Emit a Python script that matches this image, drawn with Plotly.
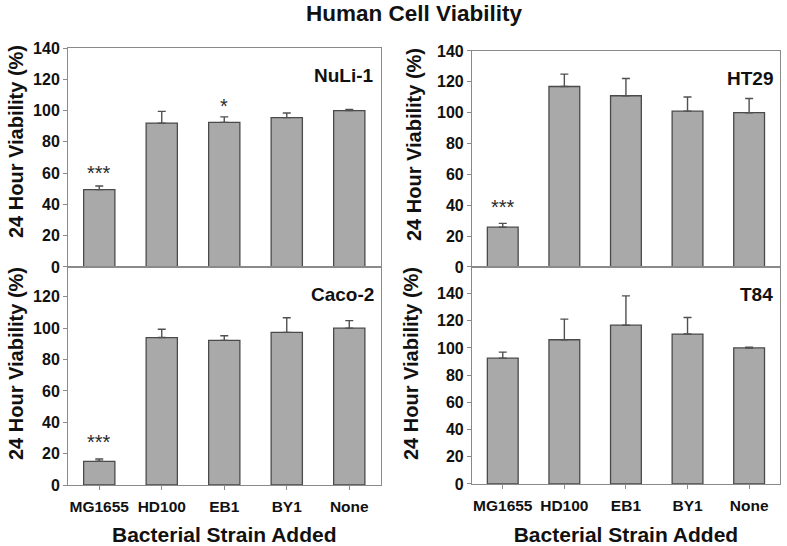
import plotly.graph_objects as go

strains = ["MG1655", "HD100", "EB1", "BY1", "None"]

nuli_vals = [49.5, 92, 92.5, 95.5, 100]
nuli_err = [2.3, 7.5, 3.5, 3.0, 0.8]
nuli_stars = ["***", "", "*", "", ""]
nuli_star_y = [60, 0, 103, 0, 0]

ht29_vals = [25.8, 117, 111, 101, 100]
ht29_err = [2.5, 8, 11.2, 9.2, 9.2]
ht29_stars = ["***", "", "", "", ""]
ht29_star_y = [39, 0, 0, 0, 0]

caco_vals = [15.1, 94, 92.2, 97.3, 100]
caco_err = [1.5, 5.3, 3.0, 9.3, 4.8]
caco_stars = ["***", "", "", "", ""]
caco_star_y = [27.6, 0, 0, 0, 0]

t84_vals = [92.5, 106, 116.7, 110.2, 100]
t84_err = [4.4, 15.2, 21.6, 12.2, 0.5]
t84_stars = ["", "", "", "", ""]
t84_star_y = [0, 0, 0, 0, 0]

panels = [
    ("NuLi-1", nuli_vals, nuli_err, nuli_stars, nuli_star_y, "x", "y", [0, 140], [0, 20, 40, 60, 80, 100, 120, 140]),
    ("HT29", ht29_vals, ht29_err, ht29_stars, ht29_star_y, "x2", "y2", [0, 140], [0, 20, 40, 60, 80, 100, 120, 140]),
    ("Caco-2", caco_vals, caco_err, caco_stars, caco_star_y, "x3", "y3", [0, 139], [0, 20, 40, 60, 80, 100, 120]),
    ("T84", t84_vals, t84_err, t84_stars, t84_star_y, "x4", "y4", [0, 159.5], [0, 20, 40, 60, 80, 100, 120, 140]),
]

FONT = "Liberation Sans, Arial, sans-serif"
BAR_FILL = "#a9a9a9"
BAR_LINE = "#4a4a4a"
AXIS_COLOR = "#8a8a8a"
TXT = "#111111"

fig = go.Figure()

xdom = {"x": [0.0864, 0.4835], "x2": [0.5997, 0.991], "x3": [0.0864, 0.4835], "x4": [0.5997, 0.991]}
ydom = {"y": [0.511, 0.912], "y2": [0.511, 0.9066], "y3": [0.1117, 0.511], "y4": [0.1136, 0.511]}

annotations = []
for name, vals, err, stars, stary, xa, ya, yr, ytv in panels:
    fig.add_trace(go.Bar(
        x=strains, y=vals, xaxis=xa, yaxis=ya, width=0.5,
        marker=dict(color=BAR_FILL, line=dict(color=BAR_LINE, width=1.3)),
        error_y=dict(type="data", symmetric=False, array=err, arrayminus=[0] * len(err),
                     color="#505050", thickness=1.4, width=4),
        showlegend=False, hoverinfo="skip",
    ))
    for s, sy, cat in zip(stars, stary, strains):
        if s:
            annotations.append(dict(x=cat, y=sy, xref=xa, yref=ya, text=s, showarrow=False,
                                    font=dict(family=FONT, size=20, color="#2a2a2a"),
                                    yanchor="middle", xanchor="center"))
    annotations.append(dict(x=0.985, y=0.93, xref=f"{xa} domain", yref=f"{ya} domain", text=f"<b>{name}</b>",
                            showarrow=False, xanchor="right", yanchor="top",
                            font=dict(family=FONT, size=19, color=TXT)))

def xaxis_cfg(dom, anchor, bottom):
    d = dict(domain=dom, anchor=anchor, showline=True, linecolor=AXIS_COLOR, linewidth=1, mirror=True,
             showgrid=False, zeroline=False, range=[-0.5, 4.5], fixedrange=True, automargin=False)
    if bottom:
        d.update(ticks="outside", ticklen=4, tickcolor=AXIS_COLOR, showticklabels=True,
                 tickfont=dict(family=FONT, size=15.5, color=TXT, weight="bold"), ticklabelstandoff=3,
                 title=dict(text="Bacterial Strain Added", standoff=18,
                            font=dict(family=FONT, size=21, color=TXT, weight="bold")))
    else:
        d.update(ticks="", showticklabels=False)
    return d

def yaxis_cfg(dom, anchor, rng, tv):
    return dict(domain=dom, anchor=anchor, range=rng, tickvals=tv, showline=True, linecolor=AXIS_COLOR,
                linewidth=1, mirror=True, showgrid=False, zeroline=False, ticks="outside", ticklen=4,
                tickcolor=AXIS_COLOR, tickfont=dict(family=FONT, size=16, color=TXT, weight="bold"),
                fixedrange=True, automargin=False)

fig.update_layout(
    xaxis=xaxis_cfg(xdom["x"], "y", False),
    xaxis2=xaxis_cfg(xdom["x2"], "y2", False),
    xaxis3=xaxis_cfg(xdom["x3"], "y3", True),
    xaxis4=xaxis_cfg(xdom["x4"], "y4", True),
    yaxis=yaxis_cfg(ydom["y"], "x", panels[0][7], panels[0][8]),
    yaxis2=yaxis_cfg(ydom["y2"], "x2", panels[1][7], panels[1][8]),
    yaxis3=yaxis_cfg(ydom["y3"], "x3", panels[2][7], panels[2][8]),
    yaxis4=yaxis_cfg(ydom["y4"], "x4", panels[3][7], panels[3][8]),
)

# y axis titles as annotations (kept inside the paper so they do not push margins)
ytitle = "<b>24 Hour Viability (%)</b>"
for xp, yp in [(16 / 787, 1 - 142 / 546), (16 / 787, 1 - 364 / 546),
               (414 / 787, 1 - 145 / 546), (411 / 787, 1 - 364 / 546)]:
    annotations.append(dict(x=xp, y=yp, xref="paper", yref="paper", text=ytitle, textangle=-90,
                            showarrow=False, xanchor="center", yanchor="middle",
                            font=dict(family=FONT, size=20, color=TXT)))

fig.update_layout(
    width=787, height=546, margin=dict(l=0, r=0, t=0, b=0),
    paper_bgcolor="white", plot_bgcolor="white", bargap=0.5,
    title=dict(text="<b>Human Cell Viability</b>", x=414 / 787, y=1 - 13 / 546,
               xanchor="center", yanchor="middle", xref="paper", yref="paper",
               font=dict(family=FONT, size=22.5, color=TXT)),
    annotations=annotations,
)

fig.write_html("out.html", config={"displayModeBar": False},
               post_script="document.body.style.margin='0';")
